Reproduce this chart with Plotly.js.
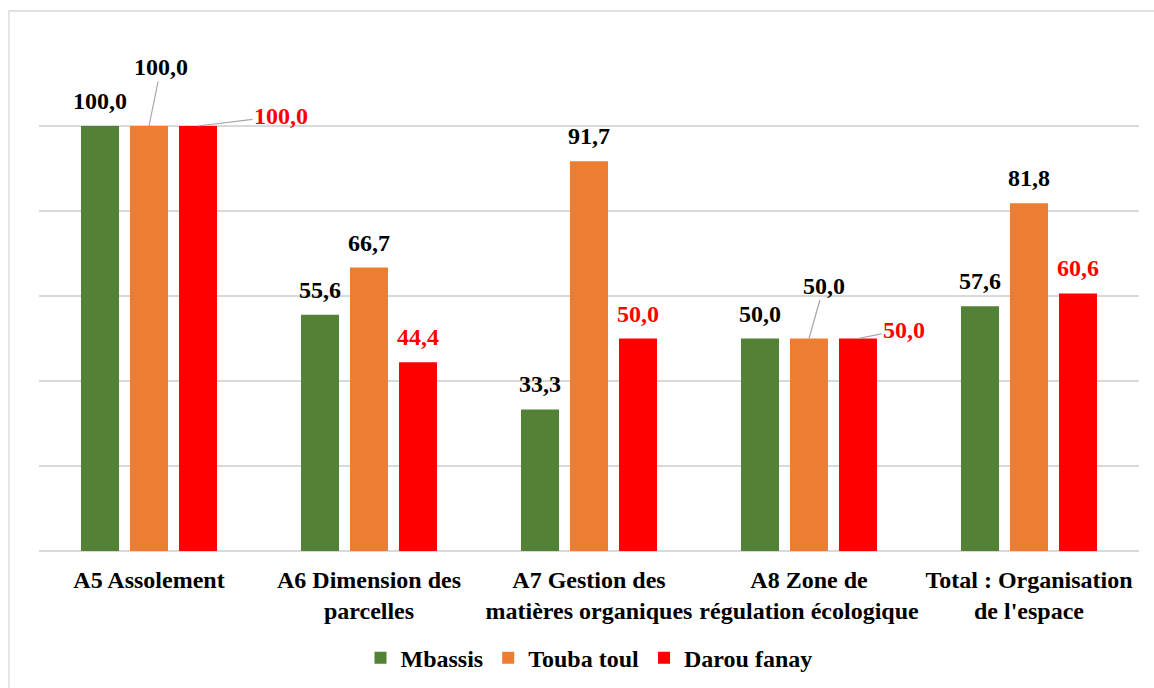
<!DOCTYPE html>
<html>
<head>
<meta charset="utf-8">
<script src="https://cdn.plot.ly/plotly-3.0.1.min.js"></script>
<style>
  html, body { margin: 0; padding: 0; background: #fff; }
  #chart { width: 1154px; height: 688px; }
</style>
</head>
<body>
<div id="chart"></div>
<script>
const categories = [
  'A5 Assolement',
  'A6 Dimension des<br>parcelles',
  'A7 Gestion des<br>matières organiques',
  'A8 Zone de<br>régulation écologique',
  "Total : Organisation<br>de l'espace"
];
const mbassis = [100.0, 55.6, 33.3, 50.0, 57.6];
const toubaToul = [100.0, 66.7, 91.7, 50.0, 81.8];
const darouFanay = [100.0, 44.4, 50.0, 50.0, 60.6];

const seriesNames = ['Mbassis', 'Touba toul', 'Darou fanay'];
const seriesColors = ['#538135', '#ED7D31', '#FF0000'];
const labelColors = ['#000000', '#000000', '#FF0000'];
const allSeries = [mbassis, toubaToul, darouFanay];

const serif = '"Liberation Serif", "Times New Roman", serif';
const fmt = v => v.toFixed(1).replace('.', ',');

const traces = allSeries.map((vals, i) => ({
  type: 'bar',
  name: '<b>' + seriesNames[i] + '</b>',
  x: categories,
  y: vals,
  marker: { color: seriesColors[i] },
  hoverinfo: 'skip'
}));

// labels that Excel moved off the bar and tied back with a leader line
const leader = {
  '1-0': [12, -59],
  '2-0': [83, -10],
  '1-3': [15, -53],
  '2-3': [46, -9]
};

const annotations = [];
allSeries.forEach((vals, s) => {
  vals.forEach((v, c) => {
    const key = s + '-' + c;
    const a = {
      x: categories[c],
      y: v,
      xref: 'x',
      yref: 'y',
      text: '<b>' + fmt(v) + '</b>',
      xshift: (s - 1) * 49,
      font: { family: serif, size: 24, color: labelColors[s] }
    };
    if (leader[key]) {
      a.showarrow = true;
      a.arrowhead = 0;
      a.arrowwidth = 1.2;
      a.arrowcolor = '#A6A6A6';
      a.ax = leader[key][0];
      a.ay = leader[key][1];
      a.standoff = 0;
    } else {
      a.showarrow = false;
      a.yanchor = 'middle';
      a.yshift = 25;
    }
    annotations.push(a);
  });
});

const layout = {
  width: 1154,
  height: 688,
  margin: { l: 39, r: 15, t: 41, b: 137, autoexpand: false },
  paper_bgcolor: '#ffffff',
  plot_bgcolor: '#ffffff',
  barmode: 'group',
  bargap: 0.332,
  bargroupgap: 0.224,
  showlegend: true,
  legend: {
    orientation: 'h',
    x: 0.5,
    xanchor: 'center',
    y: -0.21,
    yanchor: 'middle',
    font: { family: serif, size: 24, color: '#000' },
    itemwidth: 20,
    traceorder: 'normal'
  },
  xaxis: {
    type: 'category',
    automargin: false,
    showgrid: false,
    showline: false,
    ticks: '',
    ticklabelstandoff: 12,
    tickfont: { family: serif, size: 24, weight: 'bold', color: '#000' }
  },
  yaxis: {
    range: [0, 120],
    dtick: 20,
    automargin: false,
    showticklabels: false,
    showgrid: true,
    gridcolor: '#D9D9D9',
    gridwidth: 1.3,
    zeroline: true,
    zerolinecolor: '#D9D9D9',
    zerolinewidth: 1.3,
    showline: false,
    ticks: ''
  },
  shapes: [{
    type: 'rect',
    xref: 'paper',
    yref: 'paper',
    x0: -0.0273,
    x1: 1.05,
    y0: -0.3,
    y1: 1.0588,
    line: { color: '#D9D9D9', width: 1.3 },
    layer: 'below'
  }],
  annotations: annotations
};

Plotly.newPlot('chart', traces, layout, { displayModeBar: false, staticPlot: true });
</script>
</body>
</html>
